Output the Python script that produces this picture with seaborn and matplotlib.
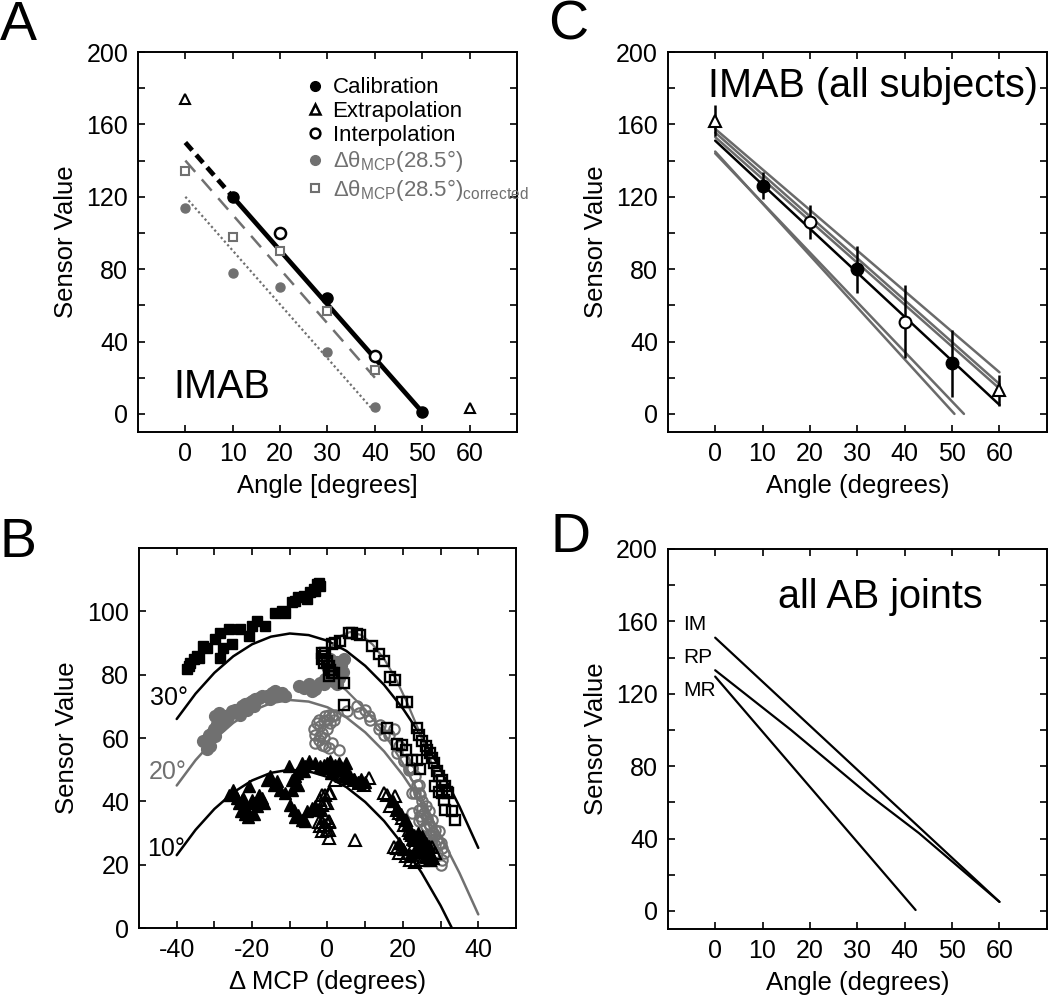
import numpy as np
import matplotlib
matplotlib.use("Agg")
import matplotlib.pyplot as plt
from matplotlib.lines import Line2D
import seaborn as sns

sns.set_style("ticks")
plt.rcParams["font.family"] = ["Liberation Sans", "DejaVu Sans"]
plt.rcParams["mathtext.fontset"] = "custom"
plt.rcParams["mathtext.rm"] = "Liberation Sans"
plt.rcParams["axes.linewidth"] = 1.4
plt.rcParams["xtick.direction"] = "in"
plt.rcParams["ytick.direction"] = "in"
for key in ["text.color", "axes.edgecolor", "axes.labelcolor", "xtick.color", "ytick.color"]:
    plt.rcParams[key] = "black"

GRAY = "#707070"

# ---------------- Panel A: IMAB, one subject ----------------
a_cal_x = [10, 30, 50]
a_cal_y = [120, 64, 1]
a_extra_x = [0, 60]
a_extra_y = [174, 3]
a_inter_x = [20, 40]
a_inter_y = [100, 32]
a_mcp_x = [0, 10, 20, 30, 40]
a_mcp_y = [114, 78, 70, 34, 4]
a_corr_x = [0, 10, 20, 30, 40]
a_corr_y = [134, 98, 90, 57, 24]
a_fit_x = [10, 50]
a_fit_y = [120, 1]
a_fitext_x = [0, 10]
a_fitext_y = [150, 120]
a_corrfit_x = [0, 40]
a_corrfit_y = [140, 20]
a_mcpfit_x = [0, 40]
a_mcpfit_y = [120, 1]

# ---------------- Panel B: sensor value vs delta MCP ----------------
b30_fill_x = [-37.3, -36.8, -36.4, -35.5, -34.6, -34.2, -32.9, -32.0, -29.8, -28.4, -28.4, -27.6, -26.2,
              -25.3, -23.1, -20.9, -20.0, -18.7, -16.5, -13.9, -12.1, -11.2, -9.4, -8.5, -7.7, -6.3,
              -5.4, -4.6, -3.7, -2.8, -2.3, -1.9, -3.2]
b30_fill_y = [81.7, 82.7, 83.8, 84.9, 85.9, 85.4, 89.1, 88.5, 91.2, 93.3, 85.4, 88.5, 94.3, 89.6, 94.3,
              92.2, 95.4, 97.0, 95.4, 99.6, 100.2, 99.6, 102.8, 103.3, 104.4, 104.9, 103.8, 106.0,
              107.0, 108.6, 109.1, 108.1, 106.5]
b30_open_x = [-1.45, -1.0, -0.57, -1.45, -1.0, -0.12, 0.32, 0.76, 1.2, 0.32, 1.64, 4.3, 1.2, 2.1, 3.4,
              5.6, 6.5, 7.8, 8.7, 11.8, 13.6, 14.9, 16.7, 18.0, 19.8, 21.1, 4.3, 15.8, 23.7, 24.2, 18.4,
              19.8, 20.7, 25.1, 26.0, 26.4, 27.3, 27.7, 22.4, 23.7, 24.6, 28.2, 29.1, 29.5, 30.4, 31.3,
              28.6, 29.5, 30.4, 31.7, 30.8, 32.1, 33.0, 33.9, 31.3]
b30_open_y = [86.9, 85.9, 86.9, 84.8, 83.8, 84.3, 82.7, 81.6, 80.6, 79.5, 80.6, 77.4, 89.6, 90.1, 90.6,
              93.3, 93.3, 93.0, 92.4, 89.2, 86.4, 84.3, 79.3, 78.3, 71.3, 71.3, 70.3, 63.2, 63.2, 61.1,
              58.2, 57.9, 56.3, 59.0, 57.4, 56.3, 55.3, 53.7, 53.2, 53.2, 50.2, 52.1, 49.5, 47.9, 46.8,
              44.7, 44.7, 43.1, 42.6, 43.1, 40.5, 42.6, 36.8, 34.2, 37.3]
b20_fill_x = [-32.9, -32.0, -31.5, -30.6, -30.2, -29.3, -28.9, -28.0, -28.4, -27.1, -26.2, -25.4, -24.5,
              -23.6, -22.7, -21.8, -20.9, -20.0, -19.2, -18.3, -17.4, -16.1, -14.7, -13.8, -13.0, -12.1,
              -11.2, -7.6, -6.3, -5.0, -4.1, -3.2, -1.9, -0.6, 0.7, 1.2, 1.6, 0.7, -0.1, 2.1, -1.0,
              -29.8, -31.1, -32.0, -27.6, -26.7, -23.1, -21.4, -19.6, -15.2, -29.8, -28.9,
              2.5, 3.5, 4.0, 3.0, 2.5, 1.5, 4.3]
b20_fill_y = [59.0, 59.5, 61.1, 61.6, 62.7, 64.3, 65.9, 66.4, 63.8, 66.9, 67.4, 68.5, 69.0, 68.5, 70.1,
              70.6, 71.1, 71.7, 72.2, 72.7, 73.3, 73.3, 74.3, 74.8, 73.8, 74.3, 73.3, 76.4, 75.9, 76.9,
              74.8, 75.4, 77.5, 78.5, 80.1, 81.7, 83.8, 84.9, 82.7, 79.1, 76.9,
              60.6, 57.4, 56.4, 64.8, 65.9, 67.4, 69.0, 70.1, 72.2, 66.9, 68.0,
              84.0, 83.0, 81.0, 79.0, 77.0, 78.0, 85.0]
b20_open_x = [-3.7, -3.2, -2.8, -2.3, -1.9, -1.45, -1.0, -0.57, -0.12, 0.32, 0.76, 1.2, 1.64, 2.1, -2.3,
              -1.45, -0.57, 0.32, 1.2, 3.0, -3.2, -1.9, -1.0, -0.12,
              5.2, 7.8, 8.3, 10.0, 10.9, 11.4, 14.0, 13.6, 14.9, 16.2, 17.6, 18.4, 18.9, 20.2, 21.5,
              22.4, 23.3, 23.7, 24.2, 22.4,
              20.2, 21.5, 22.4, 24.2, 23.3, 24.6, 25.1, 22.4, 24.2, 25.5, 26.4, 26.8, 27.7, 26.0, 27.3,
              28.6, 28.2, 26.8, 29.5, 30.0, 30.4, 30.8, 30.4, 30.0, 29.1, 28.6, 26.4, 27.7, 25.1, 24.2,
              25.0, 26.0, 27.0, 28.0, 29.0, 25.5, 27.5, 29.5, 24.5, 26.5]
b20_open_y = [62.7, 61.1, 64.8, 65.8, 63.7, 61.6, 65.3, 66.9, 65.8, 67.4, 64.8, 66.9, 65.8, 67.4, 59.5,
              57.9, 57.4, 56.9, 58.4, 56.3, 58.4, 60.6, 60.0, 62.7,
              68.5, 70.0, 67.9, 69.0, 66.9, 65.8, 64.2, 62.7, 61.1, 61.1, 62.7, 55.3, 57.4, 53.2, 50.5,
              50.5, 47.9, 45.3, 42.6, 42.6,
              52.6, 50.0, 50.5, 45.2, 42.6, 42.1, 40.0, 36.3, 37.3, 36.3, 34.7, 36.8, 34.2, 32.1, 32.1,
              31.0, 28.9, 29.4, 30.5, 26.8, 25.2, 23.6, 21.5, 19.9, 23.6, 26.3, 27.8, 27.8, 34.2, 33.7,
              38.0, 38.5, 33.0, 30.0, 28.0, 31.5, 29.5, 27.0, 35.5, 25.0]
b10_fill_x = [-26.2, -24.9, -24.0, -23.6, -22.7, -21.8, -21.4, -20.9, -20.0, -19.6, -18.7, -18.3, -17.4,
              -16.9, -16.1, -15.2, -14.3, -13.4, -12.5, -11.2, -10.3, -9.4, -8.5, -7.7, -6.8, -5.9,
              -5.0, -3.2, -1.9, -1.0, -0.1, 0.7, 2.1, -9.9, -9.0, -8.5, -7.7, -6.8, -5.9, -5.4, -4.1,
              -3.2, -2.3, -9.4, -8.1, -6.3, -22.0, -21.0, -19.5, -23.0, -25.0, -22.5,
              2.0, 3.5, 5.0, 6.0, 7.0, 8.0, 9.0, 10.0, 4.0, 1.0, -1.0, 3.0, 5.0,
              17.5, 18.5, 19.5, 20.5, 21.0, 22.0, 23.0, 23.5, 24.5, 25.5, 26.5, 27.5, 28.0, 21.5, 22.5,
              24.0, 25.0, 26.0, 27.0, 23.0, 22.0, 20.0, 19.0, 24.0, 25.0, 26.0, 27.0]
b10_fill_y = [42.1, 42.6, 41.0, 39.5, 40.5, 38.4, 36.8, 44.7, 40.5, 39.5, 38.4, 42.1, 41.0, 39.5, 46.8,
              47.9, 45.3, 46.3, 43.7, 42.6, 51.1, 46.8, 47.9, 45.3, 52.1, 51.1, 52.6, 52.1, 51.1, 51.6,
              52.1, 52.6, 51.6, 38.9, 37.3, 35.2, 35.8, 34.2, 33.7, 36.8, 37.9, 38.4, 37.3, 43.7, 49.0,
              49.5, 36.0, 35.0, 36.0, 37.0, 43.5, 41.0,
              50.0, 51.0, 50.0, 48.0, 47.0, 46.0, 47.0, 46.0, 48.0, 49.0, 50.5, 52.0, 52.0,
              40.0, 38.0, 36.0, 34.0, 32.5, 31.0, 29.5, 28.0, 27.0, 25.5, 24.0, 23.0, 22.0, 30.0, 28.0,
              26.0, 24.0, 22.5, 21.5, 24.0, 23.0, 25.0, 27.0, 30.0, 29.0, 27.0, 26.0]
b10_open_x = [-1.9, -0.6, 0.7, -1.5, -0.1, -1.9, -1.0, -0.1, 0.3, 0.3, -1.5,
              -1.45, 0.32, -0.57, -2.3, -0.57, 0.32, 0.32, -0.57, -1.45, -2.3, 7.4, 14.9, 15.8, 18.0,
              16.7, 18.4, 18.9, 19.8, 20.7, 20.2, 21.5, 22.4, 23.3, 22.9, 24.2, 25.1, 26.0, 17.6, 18.9,
              18.4, 20.7, 22.0, 23.3, 25.1, 26.8, 27.3, 28.6, 27.7, 26.0, 10.9, 9.6, 8.3, 7.0, 5.6, 3.9,
              2.1]
b10_open_y = [40.5, 42.1, 42.6, 38.9, 39.5, 32.1, 32.6, 31.0, 33.7, 28.4, 30.5,
              42.1, 42.6, 39.4, 37.3, 34.7, 33.6, 31.0, 32.6, 33.6, 33.6, 27.8, 42.6, 42.1, 41.6, 38.4,
              37.3, 36.3, 34.7, 34.2, 32.6, 31.0, 29.4, 27.8, 26.3, 25.2, 24.2, 22.6, 25.7, 23.6, 25.2,
              22.6, 21.5, 21.0, 21.5, 23.1, 21.5, 23.6, 25.7, 26.3, 47.4, 45.3, 45.8, 46.8, 47.4, 47.9,
              46.8]
b_curve_x = [-40, -35, -30, -25, -20, -15, -10, -5, 0, 5, 10, 15, 20, 25, 30, 35, 40]
b30_curve_y = [66, 74, 80.6, 85.8, 89.6, 92, 93, 92.5, 90.7, 87.5, 82.8, 76.8, 69.3, 60.4, 50.1, 38.4, 25.3]
b20_curve_y = [45, 53, 59.6, 64.8, 68.6, 71, 72, 71.5, 69.7, 66.5, 61.8, 55.8, 48.3, 39.4, 29.1, 17.4, 4.3]
b10_curve_x = [-40, -35, -30, -25, -20, -15, -10, -5, 0, 5, 10, 15, 20, 25, 30, 33]
b10_curve_y = [23, 31, 37.6, 42.8, 46.6, 49, 50, 49.5, 47.7, 44.5, 39.8, 33.8, 26.3, 17.4, 7.1, 0]
b30_fit_x = [1, 3, 6, 9, 12, 15, 18, 21, 24, 27, 29]
b30_fit_y = [88.5, 92, 93.5, 92.5, 89.5, 85, 79, 71.5, 63, 54, 47]
b20_fit_x = [1, 5, 10, 15, 20, 25, 28]
b20_fit_y = [79, 75, 69, 61.5, 52, 41, 34]

# ---------------- Panel C: IMAB, all subjects ----------------
c_x = [0, 10, 20, 30, 40, 50, 60]
c_mean = [162, 126, 106, 80, 51, 28, 13]
c_sd = [8.5, 7.5, 9.5, 13, 20, 18.5, 8.5]
c_kind = ["extra", "cal", "inter", "cal", "inter", "cal", "extra"]
c_meanfit_x = [0, 60]
c_meanfit_y = [151, 5]
c_subj_x0 = [0, 0, 0, 0, 0]
c_subj_y0 = [157.5, 155.5, 153, 145, 144]
c_subj_x1 = [60, 60, 60, 50.5, 52.5]
c_subj_y1 = [23, 16.5, 14, 0, 0]

# ---------------- Panel D: all AB joints ----------------
d_im_x = [0, 60]
d_im_y = [151, 5]
d_rp_x = [0, 16, 32, 43, 60]
d_rp_y = [133, 100, 65, 43, 5]
d_mr_x = [0, 42.3]
d_mr_y = [129.5, 0.5]

TICK_FS = 18
LAB_FS = 18.5
BIG_FS = 28.5

fig = plt.figure(figsize=(10.5, 10), dpi=100)
axA = fig.add_axes([0.1314, 0.568, 0.361, 0.380])
axC = fig.add_axes([0.636, 0.568, 0.361, 0.380])
axB = fig.add_axes([0.1324, 0.072, 0.359, 0.380])
axD = fig.add_axes([0.636, 0.071, 0.361, 0.380])


def style_angle_axes(ax, xlabel):
    ax.set_xlim(-10, 70)
    ax.set_ylim(-10, 200)
    ax.set_xticks(range(0, 61, 10))
    ax.set_yticks(range(0, 201, 20))
    ax.set_yticklabels([str(v) if v % 40 == 0 else "" for v in range(0, 201, 20)])
    ax.set_xlabel(xlabel, fontsize=LAB_FS, labelpad=6)
    ax.set_ylabel("Sensor Value", fontsize=LAB_FS, labelpad=6)


for ax in (axA, axB, axC, axD):
    ax.tick_params(which="both", direction="in", top=True, right=True, length=5, width=1.2,
                   labelsize=TICK_FS, pad=7, colors="black")
    for sp in ax.spines.values():
        sp.set_visible(True)
        sp.set_linewidth(1.4)
        sp.set_color("black")

# ---- A ----
ax = axA
sns.lineplot(x=a_mcpfit_x, y=a_mcpfit_y, ax=ax, color=GRAY, lw=1.6, linestyle=(0, (1, 1.2)))
sns.lineplot(x=a_corrfit_x, y=a_corrfit_y, ax=ax, color=GRAY, lw=1.8, linestyle=(0, (6, 4)))
sns.lineplot(x=a_fitext_x, y=a_fitext_y, ax=ax, color="black", lw=3.4, linestyle=(0, (2.2, 1.3)))
sns.lineplot(x=a_fit_x, y=a_fit_y, ax=ax, color="black", lw=3.4)
ax.plot(a_mcp_x, a_mcp_y, "o", color=GRAY, ms=6.5, zorder=4)
ax.plot(a_corr_x, a_corr_y, "s", mfc="white", mec=GRAY, mew=1.5, ms=6, zorder=4)
ax.plot(a_cal_x, a_cal_y, "o", color="black", ms=8, zorder=5)
ax.plot(a_inter_x, a_inter_y, "o", mfc="white", mec="black", mew=1.8, ms=8, zorder=5)
ax.plot(a_extra_x, a_extra_y, "^", mfc="white", mec="black", mew=1.5, ms=7, zorder=5)
style_angle_axes(ax, "Angle [degrees]")
ax.text(-2.5, 9, "IMAB", fontsize=BIG_FS, ha="left", va="baseline")
handles = [
    Line2D([], [], ls="", marker="o", color="black", ms=7),
    Line2D([], [], ls="", marker="^", mfc="white", mec="black", mew=1.8, ms=7),
    Line2D([], [], ls="", marker="o", mfc="white", mec="black", mew=1.8, ms=7),
    Line2D([], [], ls="", marker="o", color=GRAY, ms=7),
    Line2D([], [], ls="", marker="s", mfc="white", mec=GRAY, mew=1.5, ms=6),
]
labels = ["Calibration", "Extrapolation", "Interpolation",
          "Δθ$_{\\mathrm{MCP}}$(28.5°)", "Δθ$_{\\mathrm{MCP}}$(28.5°)$_{\\mathrm{corrected}}$"]
leg = ax.legend(handles, labels, loc="upper left", bbox_to_anchor=(0.443, 0.933), frameon=False,
                fontsize=16, handlelength=0.8, handletextpad=0.4, labelspacing=0.12,
                borderpad=0, borderaxespad=0)
for t in leg.get_texts()[3:]:
    t.set_color(GRAY)

# ---- B ----
ax = axB
sns.lineplot(x=b_curve_x, y=b30_curve_y, ax=ax, color="black", lw=1.8)
sns.lineplot(x=b_curve_x, y=b20_curve_y, ax=ax, color=GRAY, lw=1.8)
sns.lineplot(x=b10_curve_x, y=b10_curve_y, ax=ax, color="black", lw=1.8)
sns.lineplot(x=b30_fit_x, y=b30_fit_y, ax=ax, color=GRAY, lw=1.6)
sns.lineplot(x=b20_fit_x, y=b20_fit_y, ax=ax, color=GRAY, lw=1.6)
ax.plot(b20_fill_x, b20_fill_y, "o", color=GRAY, ms=8.5, zorder=3)
ax.plot(b20_open_x, b20_open_y, "o", mfc="none", mec=GRAY, mew=1.5, ms=7.5, zorder=3)
ax.plot(b30_fill_x, b30_fill_y, "s", color="black", ms=7.5, zorder=4)
ax.plot(b30_open_x, b30_open_y, "s", mfc="none", mec="black", mew=1.7, ms=6.5, zorder=4)
ax.plot(b10_fill_x, b10_fill_y, "^", color="black", ms=9, zorder=4)
ax.plot(b10_open_x, b10_open_y, "^", mfc="none", mec="black", mew=1.5, ms=8.5, zorder=4)
ax.set_xlim(-50, 50)
ax.set_ylim(0, 120)
ax.set_xticks(range(-40, 41, 10))
ax.set_xticklabels([str(v) if v % 20 == 0 else "" for v in range(-40, 41, 10)])
ax.set_yticks(range(0, 101, 20))
ax.set_xlabel("Δ MCP (degrees)", fontsize=LAB_FS, labelpad=6)
ax.set_ylabel("Sensor Value", fontsize=LAB_FS, labelpad=6)
ax.text(-47, 72.5, "30°", fontsize=18, color="black", ha="left", va="center")
ax.text(-47.5, 49.4, "20°", fontsize=18, color=GRAY, ha="left", va="center")
ax.text(-47.8, 25, "10°", fontsize=18, color="black", ha="left", va="center")

# ---- C ----
ax = axC
for x0, y0, x1, y1 in zip(c_subj_x0, c_subj_y0, c_subj_x1, c_subj_y1):
    sns.lineplot(x=[x0, x1], y=[y0, y1], ax=ax, color="#6a6a6a", lw=1.8)
sns.lineplot(x=c_meanfit_x, y=c_meanfit_y, ax=ax, color="black", lw=1.8)
ax.errorbar(c_x, c_mean, yerr=c_sd, fmt="none", ecolor="black", elinewidth=1.8, capsize=0, zorder=4)
for x, y, k in zip(c_x, c_mean, c_kind):
    if k == "cal":
        ax.plot(x, y, "o", color="black", ms=9, zorder=5)
    elif k == "inter":
        ax.plot(x, y, "o", mfc="white", mec="black", mew=1.5, ms=8.5, zorder=5)
    else:
        ax.plot(x, y, "^", mfc="white", mec="black", mew=1.5, ms=9, zorder=5)
style_angle_axes(ax, "Angle (degrees)")
ax.text(-1.5, 175, "IMAB (all subjects)", fontsize=BIG_FS, ha="left", va="baseline")

# ---- D ----
ax = axD
sns.lineplot(x=d_im_x, y=d_im_y, ax=ax, color="black", lw=1.6)
sns.lineplot(x=d_rp_x, y=d_rp_y, ax=ax, color="black", lw=1.6)
sns.lineplot(x=d_mr_x, y=d_mr_y, ax=ax, color="black", lw=1.6)
style_angle_axes(ax, "Angle (degrees)")
ax.text(13.3, 167.5, "all AB joints", fontsize=BIG_FS, ha="left", va="baseline")
for lab, yy in zip(["IM", "RP", "MR"], [158, 140, 121.7]):
    ax.text(-6.8, yy, lab, fontsize=15, ha="left", va="center")

# panel letters
for lab, x, y in [("A", 0.0, 0.96), ("C", 0.522, 0.96), ("B", 0.0, 0.443), ("D", 0.524, 0.448)]:
    fig.text(x, y, lab, fontsize=40, ha="left", va="baseline")

fig.savefig("out.png", dpi=100)
